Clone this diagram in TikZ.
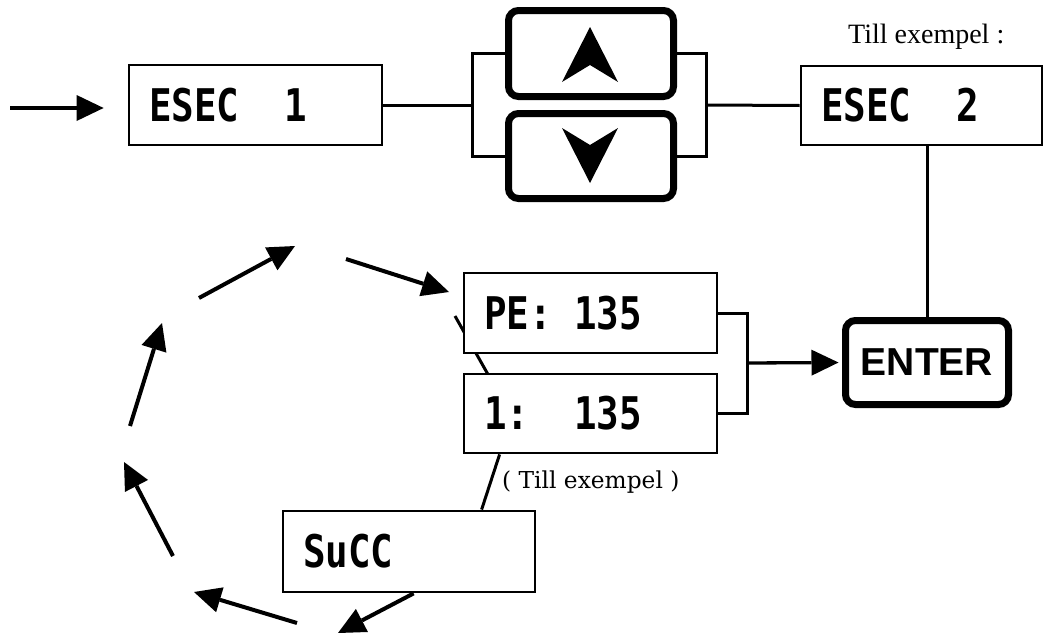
\documentclass[tikz,border=0pt]{standalone}
\usepackage{fontspec}
\usepackage{graphicx}
\setmainfont{Liberation Serif}
\newfontfamily\lcdfont{DejaVu Sans Mono}
\newfontfamily\keyfont{Liberation Sans}
\newfontfamily\notefont{DejaVu Serif}
\usetikzlibrary{arrows.meta,calc}
\newcommand\lcdt[2]{\makebox[#1][l]{\scalebox{1}[1.2]{#2}}}
\begin{document}
\begin{tikzpicture}[x=1pt,y=-1pt,
  lcd/.style={draw,line width=2.8pt,fill=white,inner xsep=20pt,inner ysep=0pt,minimum height=80pt,
    font=\lcdfont\bfseries\fontsize{37.5}{40}\selectfont},
  key/.style={draw,line width=7pt,rounded corners=10pt,fill=white,inner sep=0pt},
  wire/.style={line width=3pt},
  arr/.style={line width=4pt,-{Triangle[length=27pt,width=26pt,line width=0pt]}},
]
\useasboundingbox (0,0) rectangle (1047,632);
\clip (0,0) rectangle (1047,632);

% top row
\node[lcd] (e1) at (255.5,105) {\lcdt{213pt}{ESEC\ \ 1}};
\node[lcd,minimum height=79pt] (e2) at (921.5,105.5) {\lcdt{201pt}{ESEC\ \ 2}};
\coordinate (in) at (10,108);
\draw[arr,line width=3.3pt,shorten >=24pt] (in) -- (in -| e1.west);

\coordinate (bl) at (472,105);
\coordinate (br) at (706,105);
\draw[wire] (e1.east) -- (bl);
\draw[wire] (br) -- (e2.west);

\node[key,minimum width=165pt,minimum height=86pt] (up) at (591,53.5) {};
\node[key,minimum width=165pt,minimum height=85pt] (dn) at (591,156) {};
\draw[wire] (up.west) -| (bl) |- (dn.west);
\draw[wire] (up.east) -| (br) |- (dn.east);
\fill ($(up.center)+(-1,-26.5)$) -- ++(28,55) -- ++(-28,-17) -- ++(-28,17) -- cycle;
\fill ($(dn.center)+(-1,27)$) -- ++(-28,-55) -- ++(28,17) -- ++(28,-17) -- cycle;

\node[font=\fontsize{28}{30}\selectfont,anchor=base west,inner sep=0pt] (t1) at (848,43) {Till exempel :};

% ENTER
\node[key,minimum width=163pt,minimum height=84pt,font=\keyfont\bfseries\fontsize{39}{40}\selectfont] (enter) at (927,362.5) {ENTER};
\draw[wire] (enter.north |- e2.south) -- (enter.north);

% middle boxes
\coordinate (d1) at (455,316);
\coordinate (d2) at (490,378);
\draw[wire] (d1) -- (d2);
\node[lcd] (pe) at (590.5,313) {\lcdt{213pt}{PE:\ 135}};
\node[lcd,minimum height=79pt] (one) at (590.5,413.5) {\lcdt{213pt}{1:\ \ 135}};
\coordinate (bp) at (747,363);
\draw[wire] (pe.east) -| (bp) |- (one.east);
\draw[arr,line width=3.3pt,shorten >=3.5pt] (bp) -- (enter.west);

\node[font=\notefont\fontsize{23.3}{25}\selectfont,anchor=base west,inner sep=0pt] (t2) at (502,488) {( Till exempel )};

% SuCC
\node[lcd,minimum height=81pt] (succ) at (409,551.5) {\lcdt{212pt}{SuCC}};
\draw[wire] ($(one.south west)+(37,0)$) -- ($(succ.north west)+(200,0)$);
\coordinate (a0) at (338,633);
\draw[arr] ($(succ.south west)+(132,0)$) -- (a0);

% circle of arrows
\coordinate (p1) at (297,623); \coordinate (q1) at (194,592);
\coordinate (p2) at (173,556); \coordinate (q2) at (124,462);
\coordinate (p3) at (130,426); \coordinate (q3) at (162,323);
\coordinate (p4) at (199,298); \coordinate (q4) at (295,246);
\coordinate (p5) at (346,259); \coordinate (q5) at (449,292);
\draw[arr] (p1) -- (q1);
\draw[arr] (p2) -- (q2);
\draw[arr] (p3) -- (q3);
\draw[arr] (p4) -- (q4);
\draw[arr] (p5) -- (q5);
\end{tikzpicture}
\end{document}
